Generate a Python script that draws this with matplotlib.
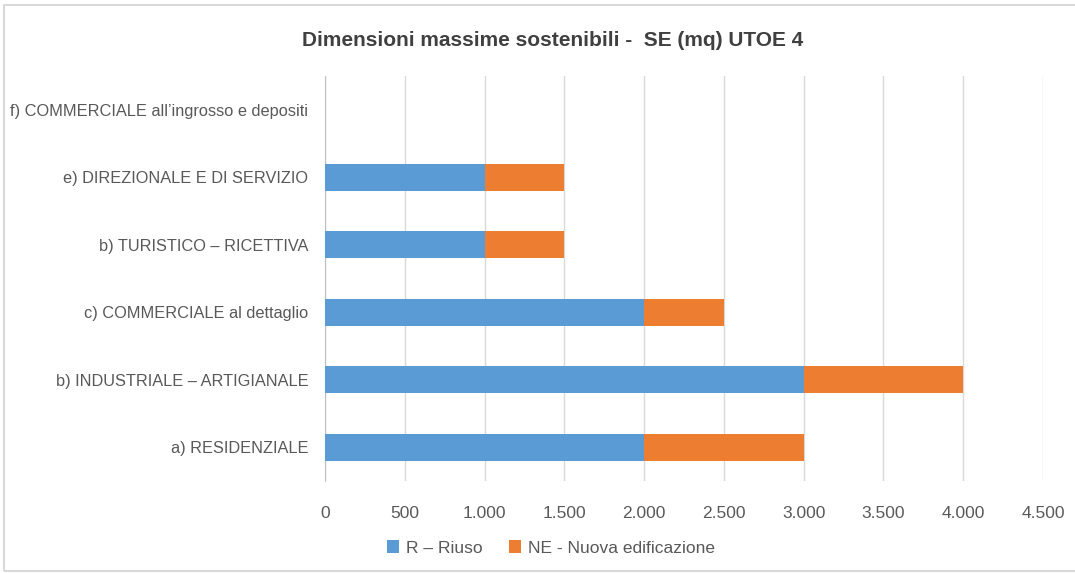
import matplotlib
matplotlib.use("Agg")
import matplotlib.pyplot as plt
from matplotlib.ticker import FuncFormatter, MultipleLocator
from matplotlib.patches import Rectangle

categories = [
    "a) RESIDENZIALE",
    "b) INDUSTRIALE \u2013 ARTIGIANALE",
    "c) COMMERCIALE al dettaglio",
    "b) TURISTICO \u2013 RICETTIVA",
    "e) DIREZIONALE E DI SERVIZIO",
    "f) COMMERCIALE all\u2019ingrosso e depositi",
]
riuso = [2000, 3000, 2000, 1000, 1000, 0]
nuova = [1000, 1000, 500, 500, 500, 0]
series_labels = ["R \u2013 Riuso", "NE - Nuova edificazione"]
title = "Dimensioni massime sostenibili -  SE (mq) UTOE 4"

plt.rcParams['font.family'] = ['Liberation Sans', 'DejaVu Sans']
txt = '#595959'

fig = plt.figure(figsize=(10.75, 5.73), dpi=100)
ax = fig.add_axes([325/1075, 1-481/573, (1043-325)/1075, (481-76)/573])

y = range(len(categories))
ax.barh(y, riuso, height=0.4, color='#5B9BD5', label=series_labels[0], zorder=3)
ax.barh(y, nuova, left=riuso, height=0.4, color='#ED7D31', label=series_labels[1], zorder=3)

ax.set_xlim(0, 4500)
ax.set_ylim(-0.5, len(categories) - 0.5)
ax.xaxis.set_major_locator(MultipleLocator(500))
ax.xaxis.set_major_formatter(FuncFormatter(lambda v, p: f"{int(v):,}".replace(",", ".")))
ax.set_yticks(list(y))
ax.set_yticklabels(categories)
ax.grid(axis='x', color='#D9D9D9', linewidth=1, zorder=0)
for s in ['top', 'right', 'bottom']:
    ax.spines[s].set_visible(False)
ax.spines['left'].set_color('#BFBFBF')
ax.tick_params(axis='y', length=0, pad=12, labelsize=11.8, labelcolor=txt)
ax.tick_params(axis='x', length=0, pad=18, labelsize=12.5, labelcolor=txt)

fig.text(0.514, 1-40/573, title, ha='center', va='center', fontsize=15, color='#404040', fontweight='bold')

leg = fig.legend(loc='center', bbox_to_anchor=(551/1075, 1-548/573), ncol=2, frameon=False,
                 fontsize=12.5, handlelength=0.7, handleheight=0.7, columnspacing=1.5, handletextpad=0.4)
for t in leg.get_texts():
    t.set_color(txt)

fig.patches.append(Rectangle((0.004, 0.004), 1.2, 0.988, transform=fig.transFigure,
                             fill=False, edgecolor='#D9D9D9', linewidth=1.5))

fig.savefig("out.png", dpi=100)
